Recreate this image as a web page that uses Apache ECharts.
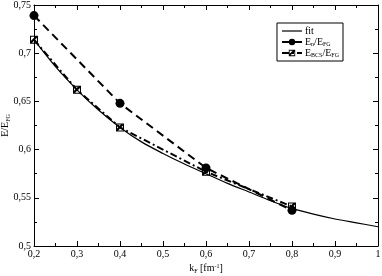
<!DOCTYPE html>
<html><head><meta charset="utf-8">
<script src="https://cdn.jsdelivr.net/npm/echarts@6/dist/echarts.min.js"></script>
<style>html,body{margin:0;padding:0;background:#fff}#c{width:382px;height:276px}</style>
</head><body><div id="c"></div>
<script>
var fitK = [0.2,0.25,0.3,0.35,0.4,0.45,0.5,0.55,0.6,0.65,0.7,0.75,0.8,0.85,0.9,0.95,1.0];
var fitVals = [0.714,0.686,0.662,0.641,0.623,0.608,0.596,0.585,0.575,0.565,0.556,0.547,0.539,0.533,0.528,0.524,0.520];
var enK = [0.2,0.4,0.6,0.8];
var enVals = [0.739,0.648,0.581,0.537];
var bcsK = [0.2,0.3,0.4,0.6,0.8];
var bcsVals = [0.714,0.662,0.623,0.577,0.541];
var xTicks = [0.2,0.3,0.4,0.5,0.6,0.7,0.8,0.9,1];
var yTicks = [0.5,0.55,0.6,0.65,0.7,0.75];

function pairs(k, v){ return k.map(function(x,i){return [x, v[i]];}); }
function fmt(v){ var r = Math.round(v*100)/100; return String(r).replace('.', ','); }

var hatch = 'path://M0 0H10V10H0Z M1.3 1.3V8.7H8.7V1.3Z M1.3 6.2L6.2 1.3H8.7V2.6L2.6 8.7H1.3Z';
var font = 'Liberation Serif';
var chart = echarts.init(document.getElementById('c'), null, {renderer:'canvas'});
var axisCommon = {
  type:'value',
  axisLine:{show:true, onZero:false, lineStyle:{color:'#000', width:1}},
  axisTick:{show:true, inside:true, length:5, lineStyle:{color:'#000'}},
  minorTick:{show:true, splitNumber:2, length:3, lineStyle:{color:'#000'}},
  splitLine:{show:false}
};
chart.setOption({
  animation:false,
  textStyle:{fontFamily:font},
  grid:{left:34, right:4, top:5, bottom:30, containLabel:false, outerBoundsMode:'none'},
  legend:{
    right:39, top:23, orient:'vertical', itemGap:1, itemWidth:20, itemHeight:8,
    borderColor:'#000', borderWidth:1, padding:[3,4,3,4], borderRadius:0,
    data:[{name:'fit', icon:'path://M0 0H20V1.2H0Z'},'en','bcs'],
    formatter:function(n){
      if(n==='fit') return 'fit';
      if(n==='en') return 'E{s|n}/E{s|FG}';
      return 'E{s|BCS}/E{s|FG}';
    },
    textStyle:{fontFamily:font, fontSize:10, color:'#000', padding:[0,0,0,-2],
      rich:{s:{fontFamily:font, fontSize:6, verticalAlign:'bottom', padding:[4,0,0,0], color:'#000'}}}
  },
  xAxis:[
    Object.assign({}, axisCommon, {min:0.2, max:1, interval:0.1, position:'bottom',
      axisLabel:{show:true, margin:3, fontFamily:font, fontSize:10, color:'#000', formatter:fmt},
      name:'k{s|F} [fm{p|-1}]', nameLocation:'middle', nameGap:17, nameMoveOverlap:false,
      nameTextStyle:{fontFamily:font, fontSize:10, color:'#000',
        rich:{s:{fontSize:6, verticalAlign:'bottom', padding:[5,0,0,0], fontFamily:font},
              p:{fontSize:6, verticalAlign:'top', padding:[0,0,5,0], fontFamily:font}}}}),
    Object.assign({}, axisCommon, {min:0.2, max:1, interval:0.1, position:'top', axisLabel:{show:false}})
  ],
  yAxis:[
    Object.assign({}, axisCommon, {min:0.5, max:0.75, interval:0.05, position:'left',
      axisLabel:{show:true, margin:3, fontFamily:font, fontSize:10, color:'#000', formatter:fmt},
      name:'E/E{s|FG}', nameLocation:'middle', nameGap:23, nameRotate:90, nameMoveOverlap:false,
      nameTextStyle:{fontFamily:font, fontSize:10, color:'#000',
        rich:{s:{fontSize:6, verticalAlign:'bottom', padding:[5,0,0,0], fontFamily:font}}}}),
    Object.assign({}, axisCommon, {min:0.5, max:0.75, interval:0.05, position:'right', axisLabel:{show:false}})
  ],
  series:[
    {name:'fit', type:'line', data:pairs(fitK, fitVals), smooth:0.3, showSymbol:false, symbol:'none',
      lineStyle:{color:'#000', width:1.2}, itemStyle:{color:'#000'}, z:1},
    {name:'bcs', type:'line', data:pairs(bcsK, bcsVals), symbol:hatch, symbolSize:8, showSymbol:true,
      lineStyle:{color:'#000', width:2, type:[7,3,2,3]}, itemStyle:{color:'#000'}, z:2},
    {name:'en', type:'line', data:pairs(enK, enVals), symbol:'circle', symbolSize:9, showSymbol:true,
      lineStyle:{color:'#000', width:2, type:[8,5]}, itemStyle:{color:'#000'}, z:3}
  ]
});
</script></body></html>
